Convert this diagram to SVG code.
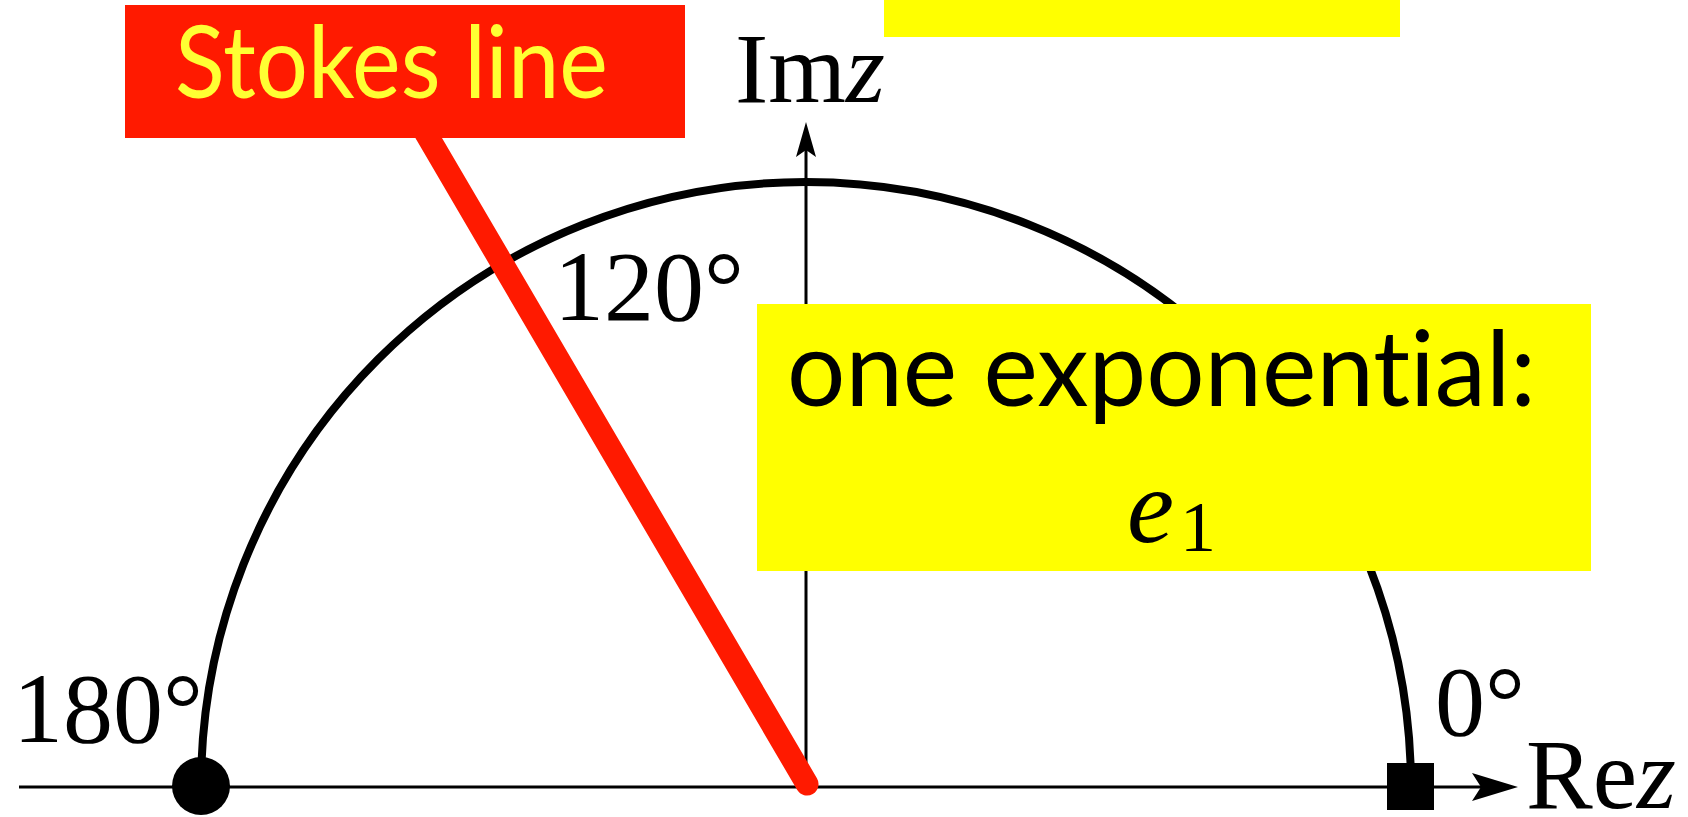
<svg xmlns="http://www.w3.org/2000/svg" width="1688" height="817" viewBox="0 0 1688 817">
<style>
.serif{font-family:"Liberation Serif","Times New Roman",serif;fill:#000}
.sans{font-family:Lato,"Open Sans",sans-serif;font-variant-ligatures:none;font-feature-settings:"liga" 0,"dlig" 0}
.ax{stroke:#000;stroke-width:3;fill:none}
</style>
<rect width="1688" height="817" fill="#fff"/>
<g id="connectors">
  <line class="ax" x1="19" y1="787" x2="1482" y2="787"/>
  <path d="M1518 787 L1472 773 L1481 787 L1472 801 Z" fill="#000"/>
  <line class="ax" x1="806" y1="787" x2="806" y2="150"/>
  <path d="M806 122 L796 157 L806 150 L816 157 Z" fill="#000"/>
  <path d="M201 787 A605 605 0 0 1 1411 787" fill="none" stroke="#000" stroke-width="8"/>
  <line id="stokes-ray" x1="807" y1="784" x2="424" y2="130" stroke="#ff1a00" stroke-width="23" stroke-linecap="round"/>
</g>
<g id="node-180">
  <circle cx="201" cy="786" r="29" fill="#000"/>
  <text class="serif" x="13" y="742" font-size="100">180°</text>
</g>
<g id="node-0">
  <rect x="1387" y="763" width="47" height="47" fill="#000"/>
  <text class="serif" x="1435" y="735" font-size="100">0°</text>
</g>
<g id="label-120">
  <text class="serif" x="554" y="320" font-size="100">120°</text>
</g>
<g id="label-imz">
  <text class="serif" x="735" y="102" font-size="100">Im<tspan font-style="italic">z</tspan></text>
</g>
<g id="label-rez">
  <text class="serif" x="1526" y="808" font-size="100">Re<tspan font-style="italic">z</tspan></text>
</g>
<g id="stokes-label">
  <rect x="125" y="5" width="560" height="133" fill="#ff1a00"/>
  <text class="sans" x="175" y="98" font-size="100" fill="#ffff33" textLength="433" lengthAdjust="spacingAndGlyphs">Stokes line</text>
</g>
<g id="top-box">
  <rect x="884" y="0" width="516" height="37" fill="#ffff00"/>
</g>
<g id="exp-box">
  <rect x="757" y="304" width="834" height="267" fill="#ffff00"/>
  <text class="sans" x="787" y="406" font-size="104" fill="#000" textLength="749" lengthAdjust="spacingAndGlyphs">one exponential:</text>
  <text class="serif" x="1127" y="542" font-size="106" font-style="italic">e</text>
  <text class="serif" x="1180" y="551" font-size="72">1</text>
</g>
</svg>
